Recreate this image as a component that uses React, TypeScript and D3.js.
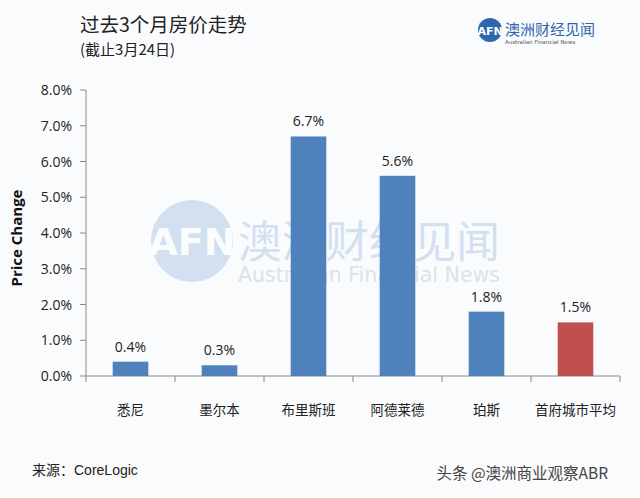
import React from "react";
import * as d3 from "d3";

const categories = ["悉尼", "墨尔本", "布里斯班", "阿德莱德", "珀斯", "首府城市平均"];
const values = [0.4, 0.3, 6.7, 5.6, 1.8, 1.5];
const valueLabels = ["0.4%", "0.3%", "6.7%", "5.6%", "1.8%", "1.5%"];
const yTicks = [0, 1, 2, 3, 4, 5, 6, 7, 8];

const W = 640, H = 498;
const left = 86, right = 620, top = 90, bottom = 376;

export default function App() {
  const x = d3.scaleBand<string>().domain(categories).range([left, right]).paddingInner(0.6).paddingOuter(0.3);
  const xb = d3.scaleBand<string>().domain(categories).range([left, right]);
  const y = d3.scaleLinear().domain([0, 8]).range([bottom, top]);
  const font = "'Noto Sans CJK SC', 'Noto Sans', sans-serif";
  const axisColor = "#8a8a8a";
  return (
    <svg width={W} height={H} style={{ position: "absolute", left: 0, top: 0, background: "#fafbfd" }} fontFamily={font}>
      <rect width={W} height={H} fill="#fafbfd" />
      {/* title */}
      <text x={80} y={32} fontSize={19.5} fill="#222">过去3个月房价走势</text>
      <text x={80} y={55} fontSize={15} fill="#222">(截止3月24日)</text>
      {/* logo */}
      <circle cx={490} cy={30} r={12} fill="#2f67ad" />
      <text x={490} y={35} fontSize={11} fontWeight="bold" fill="#fff" textAnchor="middle" fontFamily="'DejaVu Sans', sans-serif">AFN</text>
      <text x={505} y={35} fontSize={15} fill="#2f67ad">澳洲财经见闻</text>
      <text x={505} y={44} fontSize={5.5} fill="#555" fontFamily="'DejaVu Sans', sans-serif">Australian Financial News</text>
      {/* watermark */}
      <g opacity={0.28}>
        <circle cx={192} cy={241} r={41} fill="#6e9bd1" />
        <text x={192} y={255} fontSize={38} fontWeight="bold" fill="#fff" textAnchor="middle" fontFamily="'DejaVu Sans', sans-serif">AFN</text>
        <text x={238} y={258} fontSize={44} fill="#6e9bd1" textLength={262} lengthAdjust="spacingAndGlyphs">澳洲财经见闻</text>
        <text x={238} y={282} fontSize={22} fill="#8aa3c2" textLength={262} lengthAdjust="spacingAndGlyphs" fontFamily="'DejaVu Sans', sans-serif">Australian Financial News</text>
      </g>
      {/* y axis */}
      <line x1={left} x2={left} y1={top} y2={bottom} stroke={axisColor} />
      {yTicks.map((t) => (
        <g key={t}>
          <line x1={left - 6} x2={left} y1={y(t)} y2={y(t)} stroke={axisColor} />
          <text x={72} y={y(t) + 5} fontSize={14} textAnchor="end" fill="#222" fontFamily="'Open Sans', 'Noto Sans', sans-serif">{t.toFixed(1)}%</text>
        </g>
      ))}
      <text transform={`translate(22,${(top + bottom) / 2 + 5}) rotate(-90)`} fontSize={15} fontWeight="bold" textAnchor="middle" fill="#111" fontFamily="'Open Sans', 'Noto Sans', sans-serif">Price Change</text>
      {/* x axis */}
      <line x1={left} x2={right} y1={bottom} y2={bottom} stroke={axisColor} />
      {categories.map((c) => (
        <line key={c} x1={(xb(c) as number) + xb.bandwidth()} x2={(xb(c) as number) + xb.bandwidth()} y1={bottom} y2={bottom + 6} stroke={axisColor} />
      ))}
      <line x1={left} x2={left} y1={bottom} y2={bottom + 6} stroke={axisColor} />
      {categories.map((c, i) => {
        const bx = x(c) as number;
        const cx = (xb(c) as number) + xb.bandwidth() / 2;
        return (
          <g key={c}>
            <rect x={bx} y={y(values[i])} width={x.bandwidth()} height={bottom - y(values[i])} fill={i === 5 ? "#c0504d" : "#4f81bd"} />
            <text x={cx} y={y(values[i]) - 10} fontSize={14} textAnchor="middle" fill="#222" fontFamily="'Open Sans', 'Noto Sans', sans-serif">{valueLabels[i]}</text>
            <text x={cx} y={415} fontSize={13.5} textAnchor="middle" fill="#222">{c}</text>
          </g>
        );
      })}
      {/* footer */}
      <text x={32} y={475} fontSize={14} fill="#222">来源：<tspan fontFamily="'Liberation Sans', sans-serif">CoreLogic</tspan></text>
      <text x={608} y={479} fontSize={15.5} fill="#444" textAnchor="end">头条 @澳洲商业观察ABR</text>
    </svg>
  );
}
